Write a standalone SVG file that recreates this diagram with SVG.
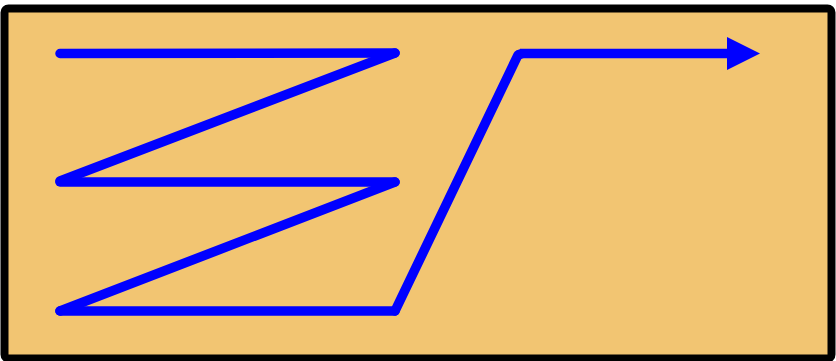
<svg xmlns="http://www.w3.org/2000/svg" width="836" height="361" viewBox="0 0 836 361">
<style>
.seg{stroke:#0000FF;stroke-width:9.5;stroke-linecap:round;fill:none}
</style>
<g id="frame">
<rect x="4.5" y="8.5" width="827" height="350" rx="4" fill="#F2C572" stroke="#000000" stroke-width="8"/>
</g>
<g id="connectors">
<line class="seg" x1="60" y1="53.5" x2="395" y2="53"/>
<line class="seg" x1="395" y1="53" x2="60" y2="181"/>
<line class="seg" x1="60" y1="182" x2="395" y2="182"/>
<line class="seg" x1="395" y1="182" x2="60" y2="311"/>
<line class="seg" x1="60" y1="311" x2="395" y2="311"/>
<line class="seg" x1="395" y1="311" x2="518" y2="55"/>
<line class="seg" x1="518" y1="55" x2="522" y2="53.5" style="stroke-linecap:butt"/>
<line x1="520" y1="53.5" x2="730" y2="53.5" stroke="#0000FF" stroke-width="9.5"/>
<polygon points="727,37 760,53.5 727,70" fill="#0000FF"/>
</g>
</svg>
